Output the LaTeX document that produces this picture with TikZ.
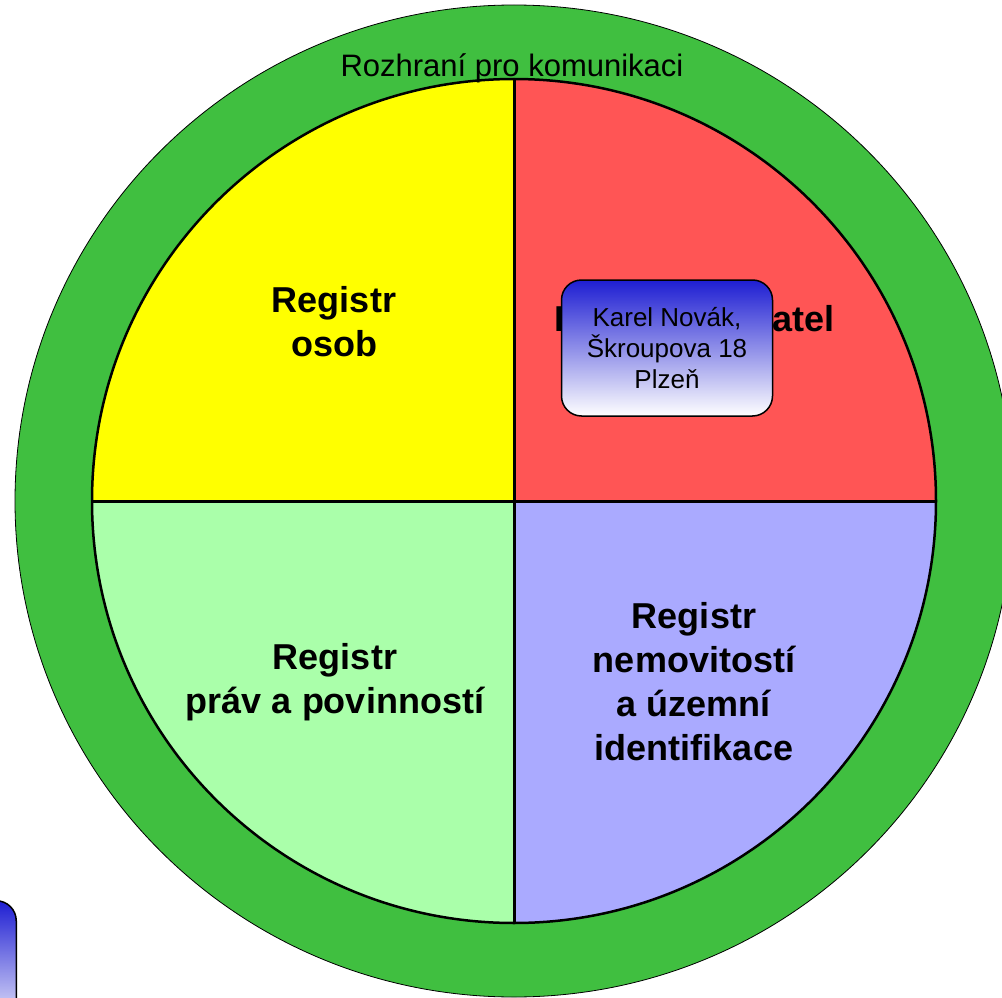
\documentclass[tikz,border=0pt]{standalone}
\usepackage{fontspec}
\setmainfont{Liberation Sans}
\definecolor{Zelena}{RGB}{64,191,64}
\definecolor{Zluta}{RGB}{255,255,0}
\definecolor{Cervena}{RGB}{255,85,85}
\definecolor{ZelenaPalida}{RGB}{170,255,170}
\definecolor{ModraPalida}{RGB}{170,170,255}
\definecolor{ModraTmava}{RGB}{30,30,210}
\tikzset{
  registrtext/.style={align=center, font=\fontsize{36}{44}\selectfont\bfseries, inner sep=0pt},
  rozhranitext/.style={font=\fontsize{31}{37}\selectfont, inner sep=0pt},
  osobabox/.style={draw=black, line width=1.5pt, rounded corners=20pt,
    top color=ModraTmava, bottom color=white, align=center,
    minimum width=211pt, minimum height=136pt, inner sep=0pt,
    font=\fontsize{26}{31}\selectfont},
  deleni/.style={draw=black, line width=3pt},
}
\begin{document}
\begin{tikzpicture}[x=1pt, y=-1pt]
  \useasboundingbox (0,0) rectangle (1002,998);
  % vnejsi kruh - rozhrani
  \draw[fill=Zelena, line width=0.8pt] (514,501) ellipse[x radius=499, y radius=496];
  % ctyri zakladni registry
  \begin{scope}
    \clip (514,501) circle[radius=422];
    \fill[Zluta] (92,79) rectangle (514,501);
    \fill[Cervena] (514,79) rectangle (937,501);
    \fill[ZelenaPalida] (92,501) rectangle (514,923);
    \fill[ModraPalida] (514,501) rectangle (937,923);
  \end{scope}
  \draw[line width=2.5pt] (514,501) circle[radius=422];
  \coordinate (nahore) at (514,79);
  \coordinate (dole) at (514,923);
  \coordinate (vlevo) at (92,501);
  \coordinate (vpravo) at (936,501);
  \draw[deleni] (nahore) -- (dole);
  \draw[deleni] (vlevo) -- (vpravo);
  % popisky
  \node[rozhranitext, anchor=base] (rozhrani) at (512,77) {Rozhraní pro komunikaci};
  \node[registrtext] (osob) at (334,322) {Registr\\osob};
  \node[registrtext] (obyvatel) at (695,322) {Registr obyvatel};
  \node[registrtext] (prav) at (335,682) {Registr\\práv a povinností};
  \node[registrtext] (ruian) at (694,682) {Registr\\nemovitostí\\a územní\\identifikace};
  % osoby
  \node[osobabox] (novak) at (667,348) {Karel Novák,\\Škroupova 18\\Plzeň};
  \node[osobabox, anchor=north east] (dalsi) at (17,900) {};
\end{tikzpicture}
\end{document}
